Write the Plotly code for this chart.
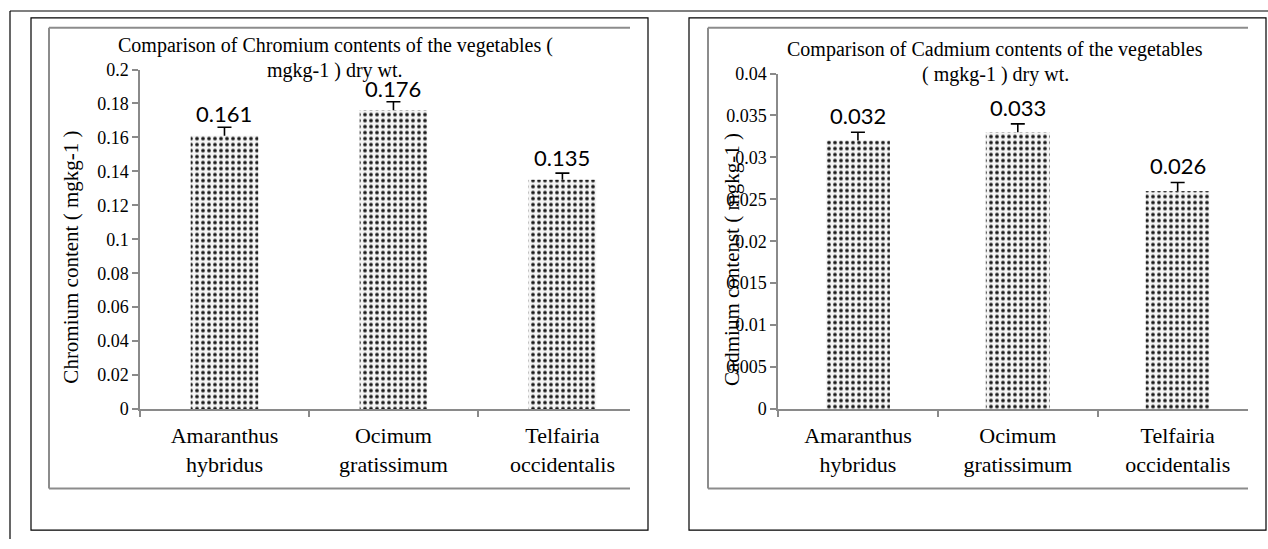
import plotly.graph_objects as go

# ---------------- data ----------------
categories = ["Amaranthus<br>hybridus", "Ocimum<br>gratissimum", "Telfairia<br>occidentalis"]

chromium = [0.161, 0.176, 0.135]
chromium_err = [0.005, 0.005, 0.004]
chromium_ticks = [0, 0.02, 0.04, 0.06, 0.08, 0.1, 0.12, 0.14, 0.16, 0.18, 0.2]
chromium_ticktext = ["0", "0.02", "0.04", "0.06", "0.08", "0.1", "0.12", "0.14", "0.16", "0.18", "0.2"]

cadmium = [0.032, 0.033, 0.026]
cadmium_err = [0.001, 0.001, 0.001]
cadmium_ticks = [0, 0.005, 0.01, 0.015, 0.02, 0.025, 0.03, 0.035, 0.04]
cadmium_ticktext = ["0", "0.005", "0.01", "0.015", "0.02", "0.025", "0.03", "0.035", "0.04"]

title_left = ["Comparison of Chromium contents of the vegetables (", "mgkg-1 ) dry wt."]
title_right = ["Comparison of Cadmium contents of the vegetables", "( mgkg-1 ) dry wt."]
ytitle_left = "Chromium content ( mgkg-1 )"
ytitle_right = "Cadmium contenst ( mgkg-1 )"

# ---------------- layout helpers ----------------
W, H = 1268, 549
VIS_TOP, VIS_H = 8, 533   # visible band of the photographed page
SERIF = "Liberation Serif"
SANS = "Lato"


def px(x):
    return x / W


def py(y):
    return min(1.0, max(0.0, 1 - (y - VIS_TOP) / VIS_H))


pattern = dict(shape=".", fgcolor="#1a1a1a", bgcolor="#f4f4f4", size=6, solidity=0.3, fillmode="replace")


def add_panel(fig, values, errors, xa, ya):
    fig.add_trace(go.Bar(
        x=categories, y=values, xaxis=xa, yaxis=ya,
        marker=dict(color="#f4f4f4", pattern=pattern, line=dict(width=0)),
        showlegend=False, hoverinfo="x+y",
    ))
    # error bars: T-shaped, upper side only (cap marker + stem going down to the bar top)
    tops = [v + e for v, e in zip(values, errors)]
    fig.add_trace(go.Scatter(
        x=categories, y=tops, xaxis=xa, yaxis=ya, mode="markers",
        marker=dict(symbol="line-ew-open", size=10, color="black", line=dict(width=1.6, color="black")),
        error_y=dict(type="data", symmetric=False, array=[0] * len(errors), arrayminus=errors,
                     width=0, thickness=1.6, color="black"),
        showlegend=False, hoverinfo="skip",
    ))


fig = go.Figure()
add_panel(fig, chromium, chromium_err, "x", "y")
add_panel(fig, cadmium, cadmium_err, "x2", "y2")

axis_common = dict(showgrid=False, zeroline=False, showline=True, linecolor="#8a8a8a", linewidth=1.5,
                   ticks="outside", tickcolor="#8a8a8a", ticklen=6, tickwidth=1.5)

xaxis_common = dict(axis_common, type="category", tickson="boundaries", range=[-0.5, 2.4],
                    tickfont=dict(family=SERIF, size=22, color="black"), ticklabelstandoff=6,
                    fixedrange=True)

fig.update_layout(
    width=W, height=H, autosize=False,
    font=dict(family=SERIF, color="black"),
    margin=dict(l=0, r=0, t=0, b=0, pad=0),
    paper_bgcolor="white", plot_bgcolor="rgba(0,0,0,0)",
    bargap=0.6,
    xaxis=dict(xaxis_common, domain=[px(140), px(630)], anchor="y"),
    yaxis=dict(axis_common, domain=[py(410), py(68)], anchor="x", range=[0, 0.2],
               tickvals=chromium_ticks, ticktext=chromium_ticktext,
               tickfont=dict(family=SERIF, size=18, color="black"), fixedrange=True),
    xaxis2=dict(xaxis_common, domain=[px(778), px(1248)], anchor="y2", range=[-0.5, 2.44]),
    yaxis2=dict(axis_common, domain=[py(410), py(72)], anchor="x2", range=[0, 0.04],
                tickvals=cadmium_ticks, ticktext=cadmium_ticktext,
                tickfont=dict(family=SERIF, size=18, color="black"), fixedrange=True),
)

annotations = []
# value labels above bars
for cat, v in zip(categories, chromium):
    annotations.append(dict(x=cat, y=v, xref="x", yref="y", text=f"{v:.3f}", showarrow=False,
                            yanchor="middle", yshift=22, font=dict(family=SANS, size=22, color="black")))
for cat, v in zip(categories, cadmium):
    annotations.append(dict(x=cat, y=v, xref="x2", yref="y2", text=f"{v:.3f}", showarrow=False,
                            yanchor="middle", yshift=25, font=dict(family=SANS, size=22, color="black")))

# titles
for text, (cx, cy) in zip(title_left, [(335, 44), (335, 68.5)]):
    annotations.append(dict(x=px(cx), y=py(cy), xref="paper", yref="paper", text=text, showarrow=False,
                            xanchor="center", yanchor="middle", font=dict(family=SERIF, size=20, color="black")))
for text, (cx, cy) in zip(title_right, [(995, 48), (995, 73)]):
    annotations.append(dict(x=px(cx), y=py(cy), xref="paper", yref="paper", text=text, showarrow=False,
                            xanchor="center", yanchor="middle", font=dict(family=SERIF, size=20, color="black")))

# y-axis titles
annotations.append(dict(x=px(71.5), y=py(257), xref="paper", yref="paper", text=ytitle_left, showarrow=False,
                        textangle=-90, xanchor="center", yanchor="middle",
                        font=dict(family=SERIF, size=21, color="black")))
annotations.append(dict(x=px(732), y=py(260), xref="paper", yref="paper", text=ytitle_right, showarrow=False,
                        textangle=-90, xanchor="center", yanchor="middle",
                        font=dict(family=SERIF, size=21, color="black")))
fig.update_layout(annotations=annotations)

# frames
shapes = []
black = dict(color="black", width=1.2)
gray = dict(color="#8c8c8c", width=2)
# outer page frame (top and left edges)
shapes.append(dict(type="line", xref="paper", yref="paper", x0=px(10), x1=1, y0=py(9), y1=py(9), line=black))
shapes.append(dict(type="line", xref="paper", yref="paper", x0=px(10), x1=px(10), y0=py(9), y1=0, line=black))
# panel frames
for (x0, y0, x1, y1) in [(31, 16, 648, 532), (689, 16, 1266, 532)]:
    shapes.append(dict(type="rect", xref="paper", yref="paper", x0=px(x0), x1=px(x1), y0=py(y1), y1=py(y0),
                       line=black, fillcolor="rgba(0,0,0,0)", layer="below"))
# chart-area frames (open on the right)
for (x0, y0, x1, y1) in [(49, 26, 630, 490), (708, 26, 1248, 490)]:
    shapes.append(dict(type="line", xref="paper", yref="paper", x0=px(x0), x1=px(x1), y0=py(y0), y1=py(y0), line=gray))
    shapes.append(dict(type="line", xref="paper", yref="paper", x0=px(x0), x1=px(x1), y0=py(y1), y1=py(y1), line=gray))
    shapes.append(dict(type="line", xref="paper", yref="paper", x0=px(x0), x1=px(x0), y0=py(y0), y1=py(y1), line=gray))
fig.update_layout(shapes=shapes)

fig.write_html(
    "out.html",
    config={"displayModeBar": False, "responsive": False},
    post_script="document.documentElement.style.margin='0';document.body.style.margin='0';"
                "document.body.style.overflow='hidden';",
)
